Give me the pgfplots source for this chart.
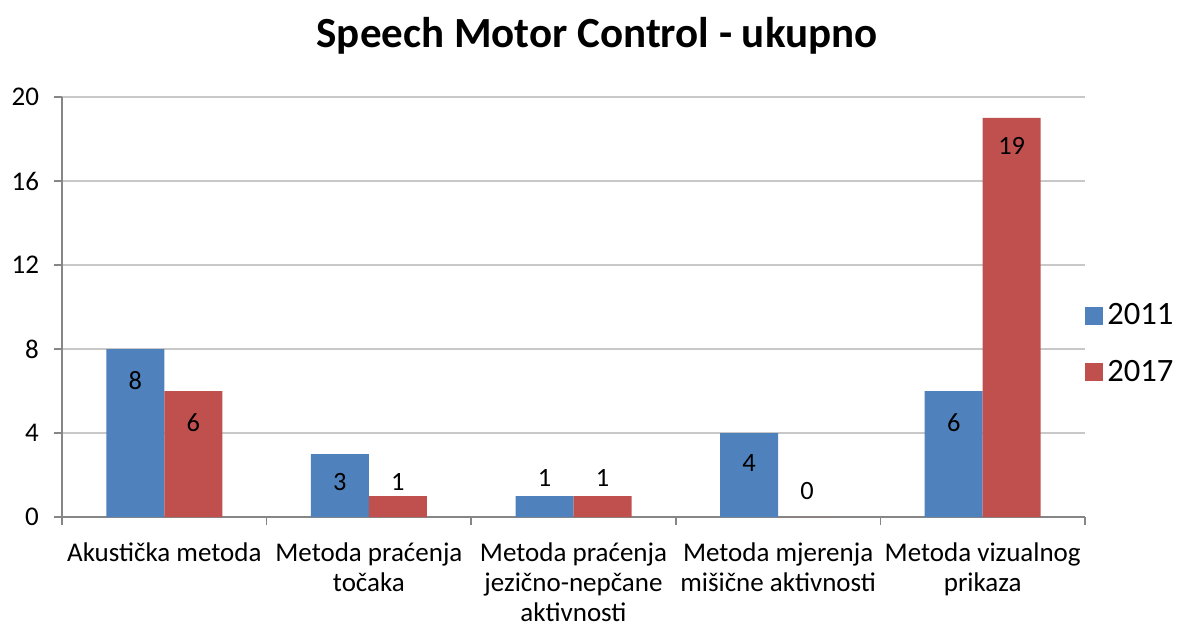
\documentclass[border=0pt]{standalone}
\usepackage{pgfplots}
\pgfplotsset{compat=1.18}
\usepackage{pgfplotstable}
\usetikzlibrary{calc}
\usepackage{fontspec}
\setmainfont{Carlito}
\definecolor{c11}{RGB}{79,129,189}
\definecolor{c17}{RGB}{192,80,77}
\definecolor{axgray}{RGB}{134,134,134}
\definecolor{grgray}{RGB}{200,200,200}
\pgfplotstableread{
x y11 s11 y17 s17
0 8 -16 6 -16
1 3 -14 1 7
2 1 9 1 9
3 4 -15 0 13
4 6 -16 19 -14
}\data
\begin{document}
\begin{tikzpicture}
\begin{axis}[
  name=ax, at={(0,0)}, anchor=south west,
  scale only axis, width=511.5pt, height=210pt,
  xmin=-0.5, xmax=4.5, ymin=0, ymax=20,
  ybar=0pt, bar width=29pt,
  axis lines=left, axis line style={-, draw=axgray, line width=0.8pt},
  ytick={0,4,...,20}, ymajorgrids, grid style={draw=grgray, line width=0.6pt},
  xtick={-0.5,0.5,...,4.5}, x tick label as interval,
  xticklabels={Akustička metoda, Metoda praćenja\\točaka, Metoda praćenja\\jezično-nepčane\\aktivnosti, Metoda mjerenja\\mišične aktivnosti, Metoda vizualnog\\prikaza},
  tick align=outside, major tick length=4pt,
  tick style={draw=axgray, line width=0.8pt},
  /pgf/number format/assume math mode=true,
  xticklabel style={align=center, font=\fontsize{13.5}{15}\selectfont, inner ysep=0.5pt, yshift=-8pt},
  yticklabel style={font=\fontsize{13.5}{15}\selectfont, xshift=-4pt},
  legend style={draw=none, at={(1.0,0.412)}, anchor=west, font=\fontsize{16.3}{18}\selectfont,
    inner sep=0pt, row sep=12pt, /tikz/every even column/.append style={column sep=0pt}},
  legend cell align=left,
  legend image code/.code={\fill[#1] (0pt,-4.5pt) rectangle (9pt,4.5pt);},
  nodes near coords,
  point meta=explicit,
  every node near coord/.append style={anchor=center, font=\fontsize{13.2}{15}\selectfont, text=black},
]
\addplot[fill=c11, draw=none,
  visualization depends on={\thisrow{s11} \as \lshift},
  every node near coord/.append style={yshift=\lshift pt}]
  table[x=x, y=y11, meta=y11] {\data};
\addplot[fill=c17, draw=none,
  visualization depends on={\thisrow{s17} \as \lshift},
  every node near coord/.append style={yshift=\lshift pt}]
  table[x=x, y=y17, meta=y17] {\data};
\legend{2011,2017}
\end{axis}
\node[font=\fontsize{21.5}{24}\selectfont\bfseries, anchor=center] at ($(ax.south west)+(267.5pt,240.5pt)$) {Speech Motor Control - ukupno};
\pgfresetboundingbox
\useasboundingbox ($(ax.south west)+(-31pt,-54.5pt)$) rectangle ++(590.5pt,313pt);
\end{tikzpicture}
\end{document}
